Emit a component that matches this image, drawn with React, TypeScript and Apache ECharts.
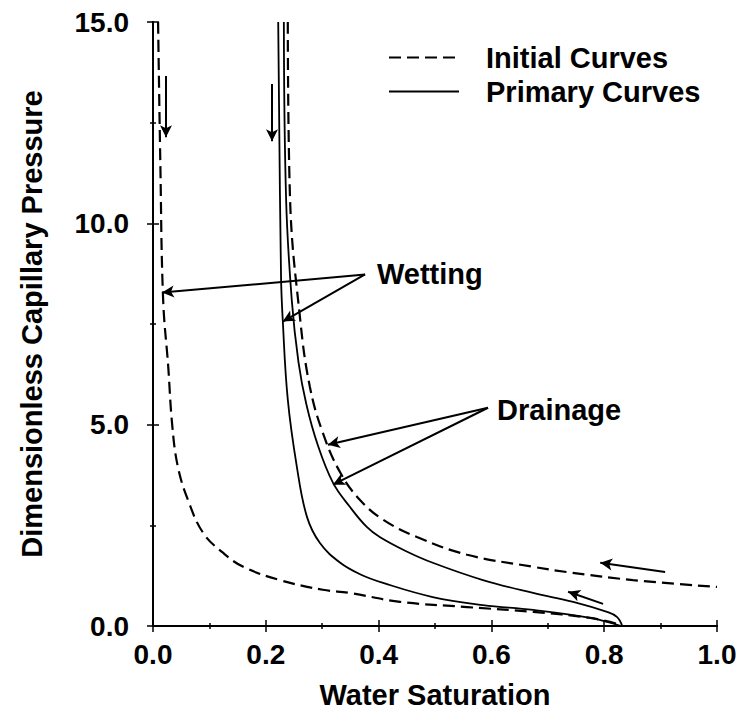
import React, { useEffect, useRef } from "react";
import * as echarts from "echarts";

// Initial wetting curve (dashed)
const initWetX = [0.009, 0.013, 0.018, 0.027, 0.034, 0.044, 0.062, 0.089, 0.124, 0.16, 0.225, 0.301, 0.349, 0.438, 0.557, 0.674, 0.775, 0.83];
const initWetY = [15.0, 11.5, 8.1, 6.44, 5.0, 3.96, 3.13, 2.31, 1.82, 1.47, 1.14, 0.9, 0.82, 0.6, 0.47, 0.35, 0.2, 0.03];

// Primary wetting curve (solid)
const primWetX = [0.222, 0.227, 0.23, 0.239, 0.255, 0.273, 0.296, 0.332, 0.368, 0.408, 0.496, 0.585, 0.674, 0.775, 0.83];
const primWetY = [15.0, 8.68, 7.61, 5.62, 3.96, 2.71, 2.06, 1.57, 1.28, 1.07, 0.72, 0.52, 0.4, 0.2, 0.0];

// Primary drainage curve (solid)
const primDrX = [0.232, 0.236, 0.246, 0.258, 0.272, 0.292, 0.319, 0.349, 0.379, 0.402, 0.447, 0.496, 0.585, 0.674, 0.745, 0.805, 0.823, 0.832];
const primDrY = [15.0, 10.6, 8.1, 6.55, 5.5, 4.5, 3.56, 2.96, 2.46, 2.21, 1.87, 1.57, 1.14, 0.82, 0.6, 0.35, 0.22, 0.0];

// Initial drainage curve (dashed)
const initDrX = [0.239, 0.243, 0.261, 0.278, 0.301, 0.332, 0.367, 0.408, 0.468, 0.557, 0.674, 0.734, 0.851, 1.0];
const initDrY = [15.0, 10.6, 7.61, 5.95, 4.8, 3.81, 3.13, 2.64, 2.21, 1.77, 1.47, 1.34, 1.14, 0.97];

// Arrows: [x1, y1, x2, y2] (arrowhead at the second point)
const arrowLines = [
  [0.023, 13.66, 0.023, 12.14],
  [0.211, 13.46, 0.211, 12.04],
  [0.376, 8.73, 0.016, 8.28],
  [0.376, 8.73, 0.23, 7.56],
  [0.594, 5.42, 0.31, 4.5],
  [0.594, 5.42, 0.319, 3.51],
  [0.908, 1.34, 0.793, 1.57],
  [0.798, 0.55, 0.736, 0.85],
];

// Annotation labels: [text, x, y]
const annotations: [string, number, number][] = [
  ["Wetting", 0.397, 8.73],
  ["Drainage", 0.61, 5.37],
];

const legendNames = ["Initial Curves", "Primary Curves"];
const xAxisName = "Water Saturation";
const yAxisName = "Dimensionless Capillary Pressure";

const FONT = '"Liberation Sans", Arial, Helvetica, sans-serif';

const zip = (xs: number[], ys: number[]) => xs.map((x, i) => [x, ys[i]]);

export default function App() {
  const ref = useRef<HTMLDivElement>(null);
  useEffect(() => {
    if (!ref.current) return;
    const chart = echarts.init(ref.current, undefined, { renderer: "svg" });
    const dashed = { color: "#000", width: 2.2, type: [12, 6] as any };
    const solid = { color: "#000", width: 1.8, type: "solid" as any };
    const tickStyle = { color: "#000", width: 1.5 };
    const txt = { color: "#000", fontFamily: FONT, fontWeight: "bold" as any };
    const baseAxis = {
      axisLine: { show: true, lineStyle: { color: "#000", width: 2 } },
      splitLine: { show: false },
    };
    const curve = (name: string, xs: number[], ys: number[], ls: any) => ({
      name,
      type: "line",
      data: zip(xs, ys),
      symbol: "none",
      smooth: 0.4,
      lineStyle: ls,
      itemStyle: { color: "#000" },
    });
    chart.setOption({
      animation: false,
      backgroundColor: "#fff",
      grid: { left: 153, right: 26, top: 22, bottom: 89, containLabel: false },
      legend: {
        data: legendNames,
        orient: "vertical",
        left: 383,
        top: 38,
        itemWidth: 70,
        itemHeight: 10,
        itemGap: 5,
        selectedMode: false,
        itemStyle: { opacity: 0, borderWidth: 0 },
        textStyle: { ...txt, fontSize: 29, padding: [0, 0, 0, 22] },
      },
      xAxis: [
        {
          ...baseAxis,
          type: "value",
          min: 0,
          max: 1,
          interval: 0.2,
          position: "bottom",
          name: xAxisName,
          nameLocation: "middle",
          nameGap: 54,
          nameTextStyle: { ...txt, fontSize: 29 },
          axisTick: { show: true, inside: true, length: 6, lineStyle: tickStyle },
          minorTick: { show: true, splitNumber: 2, length: 3, lineStyle: tickStyle },
          axisLabel: {
            ...txt,
            fontSize: 28,
            margin: 14,
            formatter: (v: number) => v.toFixed(1),
          },
        },
        {
          ...baseAxis,
          type: "value",
          min: 0,
          max: 1,
          interval: 0.2,
          position: "top",
          axisTick: { show: true, inside: true, length: 6, lineStyle: tickStyle },
          minorTick: { show: true, splitNumber: 2, length: 3, lineStyle: tickStyle },
          axisLabel: { show: false },
        },
      ],
      yAxis: [
        {
          ...baseAxis,
          type: "value",
          min: 0,
          max: 15,
          interval: 5,
          position: "left",
          name: yAxisName,
          nameLocation: "middle",
          nameGap: 107,
          nameTextStyle: { ...txt, fontSize: 29 },
          axisTick: { show: true, inside: true, length: 6, lineStyle: tickStyle },
          minorTick: { show: true, splitNumber: 2, length: 3, lineStyle: tickStyle },
          axisLabel: {
            ...txt,
            fontSize: 28,
            margin: 24,
            formatter: (v: number) => v.toFixed(1),
          },
        },
        {
          ...baseAxis,
          type: "value",
          min: 0,
          max: 15,
          interval: 5,
          position: "right",
          axisTick: { show: true, inside: true, length: 6, lineStyle: tickStyle },
          minorTick: { show: true, splitNumber: 2, length: 3, lineStyle: tickStyle },
          axisLabel: { show: false },
        },
      ],
      series: [
        {
          ...curve(legendNames[0], initWetX, initWetY, dashed),
          markLine: {
            silent: true,
            symbol: ["none", "arrow"],
            symbolSize: [9, 12],
            label: { show: false },
            lineStyle: { color: "#000", width: 2, type: "solid" },
            data: arrowLines.map((a) => [
              { coord: [a[0], a[1]] },
              { coord: [a[2], a[3]] },
            ]),
          },
          markPoint: {
            silent: true,
            symbol: "circle",
            symbolSize: 0,
            itemStyle: { color: "transparent" },
            label: {
              ...txt,
              show: true,
              position: "right",
              distance: 0,
              fontSize: 29,
              formatter: (p: any) => p.name,
            },
            data: annotations.map((a) => ({ name: a[0], coord: [a[1], a[2]] })),
          },
        },
        curve(legendNames[1], primWetX, primWetY, solid),
        curve(legendNames[1], primDrX, primDrY, solid),
        curve(legendNames[0], initDrX, initDrY, dashed),
      ],
    });
    return () => chart.dispose();
  }, []);
  return (
    <div
      ref={ref}
      style={{ position: "fixed", left: 0, top: 0, width: 743, height: 715, background: "#fff" }}
    />
  );
}
